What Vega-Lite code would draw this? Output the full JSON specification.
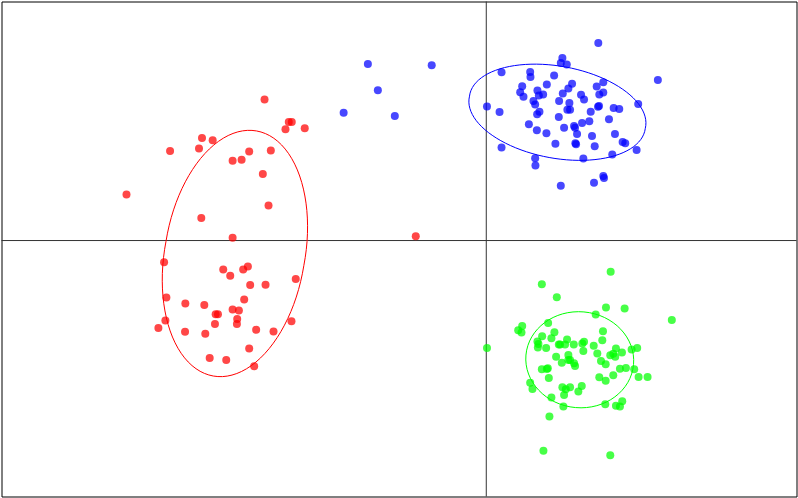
{
  "$schema": "https://vega.github.io/schema/vega-lite/v6.json",
  "width": 798,
  "height": 498,
  "autosize": {"type": "fit", "contains": "padding"},
  "padding": {"left": 0.5, "top": 0.5, "right": 0.5, "bottom": 0.5},
  "background": "#ffffff",
  "config": {"view": {"stroke": "#000000", "strokeWidth": 1}},
  "datasets": {
    "points": [
      {"x": -2.223, "y": 1.417, "group": "g1"},
      {"x": -1.98, "y": 1.19, "group": "g1"},
      {"x": -1.95, "y": 1.19, "group": "g1"},
      {"x": -2.013, "y": 1.117, "group": "g1"},
      {"x": -1.82, "y": 1.127, "group": "g1"},
      {"x": -2.85, "y": 1.03, "group": "g1"},
      {"x": -2.743, "y": 1.007, "group": "g1"},
      {"x": -3.17, "y": 0.9, "group": "g1"},
      {"x": -2.88, "y": 0.923, "group": "g1"},
      {"x": -2.377, "y": 0.893, "group": "g1"},
      {"x": -2.16, "y": 0.903, "group": "g1"},
      {"x": -2.543, "y": 0.8, "group": "g1"},
      {"x": -2.453, "y": 0.81, "group": "g1"},
      {"x": -2.24, "y": 0.667, "group": "g1"},
      {"x": -3.607, "y": 0.463, "group": "g1"},
      {"x": -2.183, "y": 0.353, "group": "g1"},
      {"x": -2.857, "y": 0.227, "group": "g1"},
      {"x": -2.543, "y": 0.027, "group": "g1"},
      {"x": -0.707, "y": 0.043, "group": "g1"},
      {"x": -3.23, "y": -0.217, "group": "g1"},
      {"x": -2.637, "y": -0.29, "group": "g1"},
      {"x": -2.567, "y": -0.353, "group": "g1"},
      {"x": -2.437, "y": -0.29, "group": "g1"},
      {"x": -2.39, "y": -0.26, "group": "g1"},
      {"x": -2.367, "y": -0.447, "group": "g1"},
      {"x": -2.213, "y": -0.443, "group": "g1"},
      {"x": -1.91, "y": -0.387, "group": "g1"},
      {"x": -3.207, "y": -0.573, "group": "g1"},
      {"x": -3.017, "y": -0.633, "group": "g1"},
      {"x": -2.827, "y": -0.647, "group": "g1"},
      {"x": -2.427, "y": -0.593, "group": "g1"},
      {"x": -2.713, "y": -0.74, "group": "g1"},
      {"x": -2.69, "y": -0.74, "group": "g1"},
      {"x": -2.543, "y": -0.693, "group": "g1"},
      {"x": -2.48, "y": -0.703, "group": "g1"},
      {"x": -3.217, "y": -0.803, "group": "g1"},
      {"x": -2.497, "y": -0.787, "group": "g1"},
      {"x": -2.5, "y": -0.837, "group": "g1"},
      {"x": -2.72, "y": -0.837, "group": "g1"},
      {"x": -3.287, "y": -0.877, "group": "g1"},
      {"x": -3.02, "y": -0.917, "group": "g1"},
      {"x": -2.817, "y": -0.937, "group": "g1"},
      {"x": -2.307, "y": -0.897, "group": "g1"},
      {"x": -2.133, "y": -0.913, "group": "g1"},
      {"x": -1.953, "y": -0.81, "group": "g1"},
      {"x": -2.377, "y": -1.083, "group": "g1"},
      {"x": -2.773, "y": -1.18, "group": "g1"},
      {"x": -2.607, "y": -1.2, "group": "g1"},
      {"x": -2.327, "y": -1.263, "group": "g1"},
      {"x": -1.187, "y": 1.773, "group": "g2"},
      {"x": -0.547, "y": 1.76, "group": "g2"},
      {"x": -1.087, "y": 1.51, "group": "g2"},
      {"x": -1.43, "y": 1.283, "group": "g2"},
      {"x": -0.917, "y": 1.25, "group": "g2"},
      {"x": 0.007, "y": 1.347, "group": "g2"},
      {"x": 1.123, "y": 1.983, "group": "g2"},
      {"x": 0.763, "y": 1.833, "group": "g2"},
      {"x": 0.747, "y": 1.783, "group": "g2"},
      {"x": 0.807, "y": 1.767, "group": "g2"},
      {"x": 0.153, "y": 1.69, "group": "g2"},
      {"x": 0.44, "y": 1.693, "group": "g2"},
      {"x": 0.443, "y": 1.643, "group": "g2"},
      {"x": 0.68, "y": 1.657, "group": "g2"},
      {"x": 1.72, "y": 1.613, "group": "g2"},
      {"x": 0.36, "y": 1.55, "group": "g2"},
      {"x": 0.607, "y": 1.567, "group": "g2"},
      {"x": 0.86, "y": 1.573, "group": "g2"},
      {"x": 0.823, "y": 1.527, "group": "g2"},
      {"x": 1.107, "y": 1.547, "group": "g2"},
      {"x": 1.173, "y": 1.59, "group": "g2"},
      {"x": 0.34, "y": 1.49, "group": "g2"},
      {"x": 0.373, "y": 1.443, "group": "g2"},
      {"x": 0.513, "y": 1.507, "group": "g2"},
      {"x": 0.527, "y": 1.457, "group": "g2"},
      {"x": 0.57, "y": 1.467, "group": "g2"},
      {"x": 0.767, "y": 1.477, "group": "g2"},
      {"x": 0.95, "y": 1.463, "group": "g2"},
      {"x": 0.98, "y": 1.417, "group": "g2"},
      {"x": 1.133, "y": 1.467, "group": "g2"},
      {"x": 1.173, "y": 1.487, "group": "g2"},
      {"x": 0.473, "y": 1.4, "group": "g2"},
      {"x": 0.49, "y": 1.367, "group": "g2"},
      {"x": 0.73, "y": 1.4, "group": "g2"},
      {"x": 0.833, "y": 1.38, "group": "g2"},
      {"x": 1.13, "y": 1.35, "group": "g2"},
      {"x": 1.12, "y": 1.343, "group": "g2"},
      {"x": 1.523, "y": 1.37, "group": "g2"},
      {"x": 0.133, "y": 1.29, "group": "g2"},
      {"x": 0.533, "y": 1.293, "group": "g2"},
      {"x": 0.51, "y": 1.267, "group": "g2"},
      {"x": 0.813, "y": 1.313, "group": "g2"},
      {"x": 0.84, "y": 1.313, "group": "g2"},
      {"x": 1.047, "y": 1.293, "group": "g2"},
      {"x": 1.277, "y": 1.33, "group": "g2"},
      {"x": 1.333, "y": 1.32, "group": "g2"},
      {"x": 0.727, "y": 1.24, "group": "g2"},
      {"x": 1.23, "y": 1.217, "group": "g2"},
      {"x": 0.427, "y": 1.167, "group": "g2"},
      {"x": 0.88, "y": 1.15, "group": "g2"},
      {"x": 0.89, "y": 1.133, "group": "g2"},
      {"x": 0.96, "y": 1.18, "group": "g2"},
      {"x": 1.033, "y": 1.197, "group": "g2"},
      {"x": 0.78, "y": 1.133, "group": "g2"},
      {"x": 0.507, "y": 1.107, "group": "g2"},
      {"x": 0.603, "y": 1.077, "group": "g2"},
      {"x": 0.91, "y": 1.07, "group": "g2"},
      {"x": 1.06, "y": 1.05, "group": "g2"},
      {"x": 1.29, "y": 1.07, "group": "g2"},
      {"x": 0.893, "y": 0.977, "group": "g2"},
      {"x": 0.9, "y": 0.967, "group": "g2"},
      {"x": 0.693, "y": 0.973, "group": "g2"},
      {"x": 1.087, "y": 0.947, "group": "g2"},
      {"x": 1.367, "y": 0.99, "group": "g2"},
      {"x": 1.393, "y": 0.977, "group": "g2"},
      {"x": 0.153, "y": 0.933, "group": "g2"},
      {"x": 1.507, "y": 0.91, "group": "g2"},
      {"x": 0.49, "y": 0.827, "group": "g2"},
      {"x": 0.973, "y": 0.823, "group": "g2"},
      {"x": 1.263, "y": 0.863, "group": "g2"},
      {"x": 0.493, "y": 0.753, "group": "g2"},
      {"x": 1.173, "y": 0.647, "group": "g2"},
      {"x": 1.18, "y": 0.627, "group": "g2"},
      {"x": 1.08, "y": 0.58, "group": "g2"},
      {"x": 0.747, "y": 0.55, "group": "g2"},
      {"x": 1.247, "y": -0.313, "group": "g3"},
      {"x": 0.557, "y": -0.44, "group": "g3"},
      {"x": 0.707, "y": -0.57, "group": "g3"},
      {"x": 1.2, "y": -0.673, "group": "g3"},
      {"x": 1.387, "y": -0.683, "group": "g3"},
      {"x": 1.097, "y": -0.743, "group": "g3"},
      {"x": 1.86, "y": -0.797, "group": "g3"},
      {"x": 0.62, "y": -0.827, "group": "g3"},
      {"x": 0.36, "y": -0.857, "group": "g3"},
      {"x": 0.32, "y": -0.9, "group": "g3"},
      {"x": 0.353, "y": -0.923, "group": "g3"},
      {"x": 0.683, "y": -0.92, "group": "g3"},
      {"x": 1.17, "y": -0.91, "group": "g3"},
      {"x": 0.56, "y": -0.96, "group": "g3"},
      {"x": 0.653, "y": -0.98, "group": "g3"},
      {"x": 0.513, "y": -1.013, "group": "g3"},
      {"x": 0.523, "y": -1.04, "group": "g3"},
      {"x": 0.517, "y": -1.073, "group": "g3"},
      {"x": 1.163, "y": -1.0, "group": "g3"},
      {"x": 0.74, "y": -1.043, "group": "g3"},
      {"x": 0.727, "y": -1.043, "group": "g3"},
      {"x": 0.79, "y": -1.043, "group": "g3"},
      {"x": 0.81, "y": -0.993, "group": "g3"},
      {"x": 0.877, "y": -1.043, "group": "g3"},
      {"x": 0.963, "y": -1.033, "group": "g3"},
      {"x": 0.98, "y": -1.017, "group": "g3"},
      {"x": 1.077, "y": -1.057, "group": "g3"},
      {"x": 0.007, "y": -1.08, "group": "g3"},
      {"x": 0.6, "y": -1.08, "group": "g3"},
      {"x": 0.973, "y": -1.11, "group": "g3"},
      {"x": 1.113, "y": -1.133, "group": "g3"},
      {"x": 1.3, "y": -1.083, "group": "g3"},
      {"x": 1.243, "y": -1.153, "group": "g3"},
      {"x": 1.293, "y": -1.167, "group": "g3"},
      {"x": 1.273, "y": -1.137, "group": "g3"},
      {"x": 1.36, "y": -1.123, "group": "g3"},
      {"x": 1.457, "y": -1.093, "group": "g3"},
      {"x": 1.513, "y": -1.08, "group": "g3"},
      {"x": 0.7, "y": -1.167, "group": "g3"},
      {"x": 0.823, "y": -1.15, "group": "g3"},
      {"x": 0.823, "y": -1.2, "group": "g3"},
      {"x": 0.84, "y": -1.2, "group": "g3"},
      {"x": 0.88, "y": -1.233, "group": "g3"},
      {"x": 0.89, "y": -1.26, "group": "g3"},
      {"x": 0.757, "y": -1.227, "group": "g3"},
      {"x": 1.15, "y": -1.21, "group": "g3"},
      {"x": 1.197, "y": -1.243, "group": "g3"},
      {"x": 0.557, "y": -1.293, "group": "g3"},
      {"x": 0.607, "y": -1.29, "group": "g3"},
      {"x": 0.617, "y": -1.283, "group": "g3"},
      {"x": 1.34, "y": -1.287, "group": "g3"},
      {"x": 1.4, "y": -1.28, "group": "g3"},
      {"x": 1.483, "y": -1.293, "group": "g3"},
      {"x": 0.627, "y": -1.38, "group": "g3"},
      {"x": 1.133, "y": -1.373, "group": "g3"},
      {"x": 1.197, "y": -1.407, "group": "g3"},
      {"x": 1.273, "y": -1.353, "group": "g3"},
      {"x": 1.527, "y": -1.37, "group": "g3"},
      {"x": 1.617, "y": -1.37, "group": "g3"},
      {"x": 0.44, "y": -1.427, "group": "g3"},
      {"x": 0.463, "y": -1.49, "group": "g3"},
      {"x": 0.763, "y": -1.473, "group": "g3"},
      {"x": 0.797, "y": -1.493, "group": "g3"},
      {"x": 0.84, "y": -1.473, "group": "g3"},
      {"x": 0.78, "y": -1.55, "group": "g3"},
      {"x": 0.957, "y": -1.46, "group": "g3"},
      {"x": 0.923, "y": -1.517, "group": "g3"},
      {"x": 0.653, "y": -1.577, "group": "g3"},
      {"x": 1.193, "y": -1.643, "group": "g3"},
      {"x": 1.3, "y": -1.66, "group": "g3"},
      {"x": 1.34, "y": -1.667, "group": "g3"},
      {"x": 1.363, "y": -1.613, "group": "g3"},
      {"x": 0.773, "y": -1.667, "group": "g3"},
      {"x": 0.633, "y": -1.767, "group": "g3"},
      {"x": 0.573, "y": -2.11, "group": "g3"},
      {"x": 1.243, "y": -2.157, "group": "g3"}
    ],
    "ellipses": [
      {"x": -2.52, "y": -0.13, "group": "g1"},
      {"x": 0.713, "y": 1.288, "group": "g2"},
      {"x": 0.937, "y": -1.197, "group": "g3"}
    ],
    "origin": [
      {"v": 0}
    ]
  },
  "layer": [
    {
      "data": {"name": "origin"},
      "mark": {"type": "rule", "color": "#333333", "strokeWidth": 1},
      "encoding": {"x": {"field": "v", "type": "quantitative", "scale": {"domain": [-4.86, 3.11], "nice": false, "zero": false}, "axis": null}}
    },
    {
      "data": {"name": "origin"},
      "mark": {"type": "rule", "color": "#333333", "strokeWidth": 1},
      "encoding": {"y": {"field": "v", "type": "quantitative", "scale": {"domain": [-2.57, 2.4], "nice": false, "zero": false}, "axis": null}}
    },
    {
      "data": {"name": "ellipses"},
      "mark": {"type": "point", "filled": false, "size": 4, "strokeWidth": 1, "opacity": 1},
      "encoding": {
        "x": {"field": "x", "type": "quantitative", "scale": {"domain": [-4.86, 3.11], "nice": false, "zero": false}, "axis": null},
        "y": {"field": "y", "type": "quantitative", "scale": {"domain": [-2.57, 2.4], "nice": false, "zero": false}, "axis": null},
        "color": {"field": "group", "type": "nominal", "scale": {"domain": ["g1", "g2", "g3"], "range": ["#ff0000", "#0000ff", "#00ff00"]}, "legend": null},
        "shape": {"field": "group", "type": "nominal", "scale": {"domain": ["g1", "g2", "g3"], "range": [
          "M 68.9 12.2 A 70 121 10 1 1 -68.9 -12.2 A 70 121 10 1 1 68.9 12.2 Z",
          "M 87.9 16.1 A 89.4 44.7 10.4 1 1 -87.9 -16.1 A 89.4 44.7 10.4 1 1 87.9 16.1 Z",
          "M 53.8 4.7 A 54 48 5 1 1 -53.8 -4.7 A 54 48 5 1 1 53.8 4.7 Z"
        ]}, "legend": null}
      }
    },
    {
      "data": {"name": "points"},
      "mark": {"type": "circle", "size": 64, "opacity": 0.72},
      "encoding": {
        "x": {"field": "x", "type": "quantitative", "scale": {"domain": [-4.86, 3.11], "nice": false, "zero": false}, "axis": null},
        "y": {"field": "y", "type": "quantitative", "scale": {"domain": [-2.57, 2.4], "nice": false, "zero": false}, "axis": null},
        "color": {"field": "group", "type": "nominal", "scale": {"domain": ["g1", "g2", "g3"], "range": ["#ff0000", "#0000ff", "#00ff00"]}, "legend": null}
      }
    }
  ]
}
